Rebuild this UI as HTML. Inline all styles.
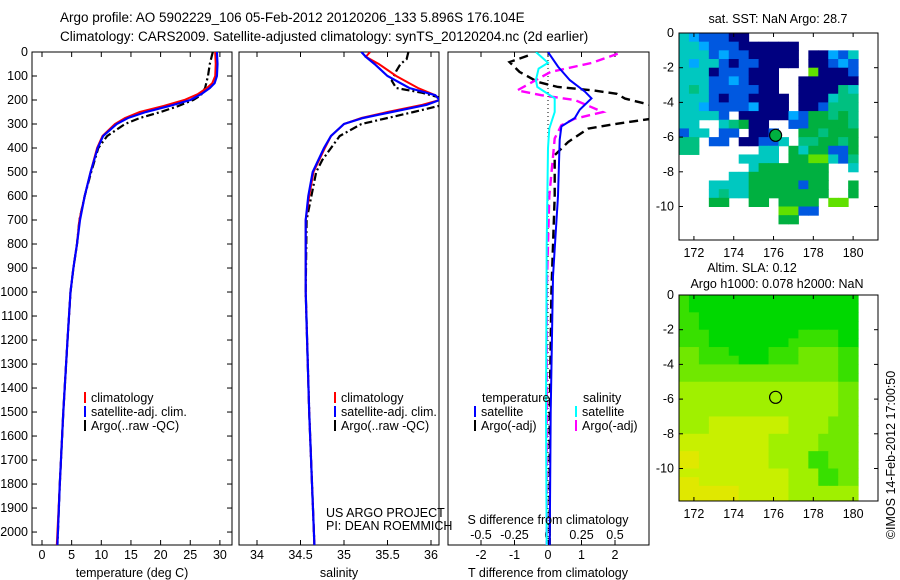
<!DOCTYPE html>
<html><head><meta charset="utf-8"><style>
body{margin:0;background:#fff;}
svg{display:block;font-family:"Liberation Sans",sans-serif;}
text{font-size:12.5px;fill:#000;}
</style></head><body>
<svg id="fig" width="900" height="580" viewBox="0 0 900 580" xmlns="http://www.w3.org/2000/svg">
<rect width="900" height="580" fill="#fff"/>
<text x="60" y="22" style="font-size:13.5px">Argo profile: AO 5902229_106 05-Feb-2012 20120206_133 5.896S 176.104E</text>
<text x="60" y="41" style="font-size:13.5px">Climatology: CARS2009. Satellite-adjusted climatology: synTS_20120204.nc (2d earlier)</text>
<g id="g"></g>
<text transform="translate(895,455) rotate(-90)" text-anchor="middle" style="font-size:12.5px">©IMOS 14-Feb-2012 17:00:50</text>
</svg>
<script>
// ---- data ----
const depthTicks=[0,100,200,300,400,500,600,700,800,900,1000,1100,1200,1300,1400,1500,1600,1700,1800,1900,2000];
const tempTicks=[0,5,10,15,20,25,30];
const salTicks=[34,34.5,35,35.5,36];
const tdTicks=[-2,-1,0,1,2];
const sdTicks=[-0.5,-0.25,0,0.25,0.5];
const tempClimD=[0,50,100,130,150,175,200,225,250,275,300,350,400,500,600,700,800,900,1000,1200,1500,1800,2054];
const tempClim=[29.2,29.3,29.2,28.7,27.8,26.3,24.0,20.5,16.5,14.0,12.3,10.2,9.3,8.2,7.2,6.3,5.9,5.3,4.8,4.3,3.6,3.0,2.5];
const tempSat=[29.5,29.6,29.5,29.1,28.3,26.9,25.0,21.5,17.5,14.5,12.6,10.3,9.4,8.2,7.2,6.4,5.9,5.3,4.8,4.3,3.6,3.0,2.6];
const tempArgoD=[0,50,100,150,180,200,225,250,275,300,350,400,500,600,700,800,900,1000,1200,1500,1800,2054];
const tempArgo=[28.8,28.3,28.0,27.5,26.8,25.5,23.0,20.0,16.5,14.0,11.0,9.5,8.3,7.2,6.3,5.9,5.3,4.8,4.3,3.6,3.0,2.6];
const salD=[0,20,50,100,150,180,200,220,250,275,300,350,400,500,600,700,1000,1500,2054];
const salClim=[35.3,35.25,35.4,35.6,35.85,36.05,36.1,35.9,35.5,35.2,35.0,34.85,34.78,34.65,34.6,34.56,34.56,34.6,34.66];
const salSat=[35.2,35.25,35.35,35.5,35.75,36.05,36.1,35.95,35.55,35.22,35.0,34.85,34.77,34.64,34.59,34.56,34.56,34.6,34.66];
const salArgoD=[0,30,50,80,120,150,170,190,215,250,275,300,350,400,450,500,700,1000,1500,2054];
const salArgo=[35.74,35.72,35.65,35.6,35.55,35.6,35.9,36.1,36.2,35.8,35.5,35.2,34.95,34.85,34.75,34.68,34.57,34.56,34.6,34.66];
const tdD=[0,61,117,165,193,240,275,310,365,600,935,1500,2054];
const tdSat=[0,0.3,0.65,1.1,1.3,0.95,0.8,0.4,0.35,0.3,0.15,0.08,0.05];
const tdArgoD=[15,42,83,125,146,160,174,194,222,240,278,299,319,375,430,600,1000,1500,2054];
const tdArgo=[-0.6,-1.15,-0.85,-0.3,0.3,1.35,2.05,2.3,3.1,3.4,3.1,2.05,1.2,0.6,0.2,0.2,0.1,0.05,0.05];
const sdD=[0,45,69,117,146,193,250,319,400,800,1500,2054];
const sdSat=[-0.09,0,-0.07,-0.09,-0.08,0.05,0.05,0.01,0,-0.01,-0.015,-0.01];
const sdArgoD=[7,45,83,160,180,200,250,278,305,360,600,1000,2054];
const sdArgo=[0.52,0.33,0.02,-0.23,-0.05,0.2,0.41,0.2,0.1,0.05,0.01,-0.01,-0.01];
const latTicks=[0,-2,-4,-6,-8,-10];
const lonTicks=[172,174,176,178,180];
const sstGrid=[
"CSBBBNNWWWWWWWWWWW",
"CCSBBBNNNNNNWWWWWW",
"CCCBSBBNNNNNWNNSBC",
"CSCCBNBBNNNNWNNBSB",
"CCCNBBBNNNWWWLNNNB",
"CCCBBSBNNNWWNNNNNN",
"CTCBBBBBNNWWNNNNTC",
"CCCBNBBNNNNWNNNCTT",
"CCSBBBBSNNNWNNBTTT",
"CCCCBWNNNNNSBGGTGT",
"CCWWCTGNNWWBBGGGGT",
"BCCWBBWNNBWWGGTGGG",
"TTWBBWNNBBCWTTGGTG",
"TTWWWWWWCCWGCGGBBG",
"WWWWWWCCCCWGGLLCBT",
"WWWWWWWCGGGGGGGWWC",
"WWWWWCCGGGGGGGGWWW",
"WWWCCCCGGGGGBGGWWG",
"WWWCTCCGGGGGGGGWWG",
"WWWGGWWGGWGGGGWLLW",
"WWWWWWWWWWLLBBWWWW",
"WWWWWWWWWWGGWWWWWW",
"WWWWWWWWWWWWWWWWWW",
"WWWWWWWWWWWWWWWWWW"];
const slaGrid=[
"100000000000000000",
"100000000000000000",
"110000000000000000",
"110000000000000000",
"111000000000111100",
"111000000001111100",
"221110000111222211",
"221111000111222211",
"222222222222222211",
"222222222222222211",
"333333333333333322",
"333333333333333322",
"333333333333333322",
"333333333333333322",
"333444444443333222",
"333444444443333222",
"444444444333332222",
"444444444333332222",
"554444444333311222",
"554444444333311222",
"444444444443331122",
"554444444443331122",
"555555444443333333",
"555555444443333333"];
const sstColors={N:"#000080",B:"#0058e0",S:"#00a8ff",C:"#00c8c0",T:"#00c080",G:"#00b040",L:"#60e000"};
const slaColors=["#00d800","#38e000","#70e800","#a0f000","#c8f000","#e0e800"];
// ---- drawing ----
const NS="http://www.w3.org/2000/svg";
const root=document.getElementById('g');
function mk(tag,at,par){const e=document.createElementNS(NS,tag);for(const k in at)e.setAttribute(k,at[k]);(par||root).appendChild(e);return e;}
const top0=52,bot=545,dMax=2054;
const yD=d=>top0+(d/dMax)*(bot-top0);
const xT=v=>42+v*5.93;
const xS=v=>257+(v-34)*87;
const xTD=v=>548+v*33.5;
const xSD=v=>548+v*134;
function panel(x0,x1,name){
  const r=mk('rect',{x:x0,y:top0,width:x1-x0,height:bot-top0,fill:'none',stroke:'#000','stroke-width':1});
  
  
}
function line(xs,ds,fx,col,w,dash,name,clip){
  const p=xs.map((v,i)=>fx(v).toFixed(1)+','+yD(ds[i]).toFixed(1)).join(' ');
  const a={points:p,fill:'none',stroke:col,'stroke-width':w};
  if(dash)a['stroke-dasharray']=dash;
  if(clip)a['clip-path']=clip;
  const e=mk('polyline',a);
  
  
}
const defs=mk('defs',{});
const cp=mk('clipPath',{id:'c3'},defs);mk('rect',{x:448,y:52,width:201,height:493},cp);
const cp2=mk('clipPath',{id:'c2'},defs);mk('rect',{x:239,y:52,width:200,height:493},cp2);
panel(32,232,'temperature-panel');panel(239,439,'salinity-panel');panel(448,649,'difference-panel');
depthTicks.forEach(d=>{
  const y=yD(d);
  mk('line',{x1:32,x2:37,y1:y,y2:y,stroke:'#000'});mk('line',{x1:227,x2:232,y1:y,y2:y,stroke:'#000'});
  const t=mk('text',{x:28,y:y+4,'text-anchor':'end'});t.textContent=d;
  
  
});
function xticks(ticks,fx,ly,cls){
  ticks.forEach(v=>{const x=fx(v);
    mk('line',{x1:x,x2:x,y1:top0,y2:top0+5,stroke:'#000'});mk('line',{x1:x,x2:x,y1:bot,y2:bot-5,stroke:'#000'});
    const t=mk('text',{x:x,y:ly,'text-anchor':'middle'});t.textContent=v;
    
    
  });
}
xticks(tempTicks,xT,559,'temperature-tick-label');
xticks(salTicks,xS,559,'salinity-tick-label');
xticks(tdTicks,xTD,559,'t-diff-tick-label');
sdTicks.forEach(v=>{const t=mk('text',{x:xSD(v),y:539,'text-anchor':'middle'});t.textContent=v;
  
  });
line(tempArgo,tempArgoD,xT,'#000',2.2,'8,3,2,3','temp-argo-line');
line(tempClim,tempClimD,xT,'#f00',2,'', 'temp-clim-line');
line(tempSat,tempClimD,xT,'#00f',2.2,'','temp-sat-line');
line(salArgo,salArgoD,xS,'#000',2.2,'8,3,2,3','sal-argo-line','url(#c2)');
line(salClim,salD,xS,'#f00',2,'','sal-clim-line','url(#c2)');
line(salSat,salD,xS,'#00f',2.2,'','sal-sat-line','url(#c2)');
mk('line',{x1:548,x2:548,y1:52,y2:545,stroke:'#000','stroke-dasharray':'1,3'});
line(tdArgo,tdArgoD,xTD,'#000',2.4,'9,5','tdiff-argo-line','url(#c3)');
line(sdArgo,sdArgoD,xSD,'#f0f',2.4,'9,5','sdiff-argo-line','url(#c3)');
line(tdSat,tdD,xTD,'#00f',2,'','tdiff-sat-line','url(#c3)');
line(sdSat,sdD,xSD,'#0ff',2,'','sdiff-sat-line','url(#c3)');
function txt(x,y,s,name,anchor){const t=mk('text',{x:x,y:y,'text-anchor':anchor||'start'});t.textContent=s;
  
  return t;}
txt(132,577,'temperature (deg C)','temperature-axis-title','middle');
txt(339,577,'salinity','salinity-axis-title','middle');
txt(548,577,'T difference from climatology','t-diff-axis-title','middle');
txt(548,524,'S difference from climatology','s-diff-axis-title','middle');
txt(326,517,'US ARGO PROJECT','project-label');
txt(326,530,'PI: DEAN ROEMMICH','pi-label');
function leg(x,y,col,s,name){const e=mk('rect',{x:x,y:y-10,width:2,height:11,fill:col});
  
  
  txt(x+7,y,s,name);}
[[84,'climatology','#f00'],[84,'satellite-adj. clim.','#00f'],[84,'Argo(..raw -QC)','#000']].forEach((a,i)=>leg(a[0],402+i*14,a[2],a[1],'temp-legend-entry'));
[[334,'climatology','#f00'],[334,'satellite-adj. clim.','#00f'],[334,'Argo(..raw -QC)','#000']].forEach((a,i)=>leg(a[0],402+i*14,a[2],a[1],'sal-legend-entry'));
txt(482,402,'temperature','diff-legend-temperature-header');
txt(583,402,'salinity','diff-legend-salinity-header');
leg(474,416,'#00f','satellite','diff-legend-t-satellite');
leg(474,430,'#000','Argo(-adj)','diff-legend-t-argo');
leg(575,416,'#0ff','satellite','diff-legend-s-satellite');
leg(575,430,'#f0f','Argo(-adj)','diff-legend-s-argo');
const mx0=679,mx1=878,lonL=171.25,pxLon=19.9;
const xL=l=>mx0+(l-lonL)*pxLon;
function map(y0,y1,grid,colFn,name,fillCircle){
  const pxLat=17.35;const yL=v=>y0-v*pxLat;
  const g=mk('g',{});
  
  grid.forEach((row,r)=>{for(let c=0;c<row.length;c++){const col=colFn(row[c]);if(!col)continue;
    const x=xL(lonL+c*0.5),y=yL(-r*0.5);const h=Math.min(pxLat*0.5+0.5,y1-y);if(h<=0)continue;
    mk('rect',{x:x,y:y,width:pxLon*0.5+0.5,height:h,fill:col},g);}});
  mk('rect',{x:mx0,y:y0,width:mx1-mx0,height:y1-y0,fill:'none',stroke:'#000'});
  latTicks.forEach(v=>{const y=yL(v);mk('line',{x1:mx0,x2:mx0+4,y1:y,y2:y,stroke:'#000'});mk('line',{x1:mx1-4,x2:mx1,y1:y,y2:y,stroke:'#000'});
    txt(mx0-5,y+4,v,name+'-lat-label','end');});
  lonTicks.forEach(v=>{const x=xL(v);mk('line',{x1:x,x2:x,y1:y0,y2:y0+4,stroke:'#000'});mk('line',{x1:x,x2:x,y1:y1,y2:y1-4,stroke:'#000'});
    txt(x,y1+17,v,name+'-lon-label','middle');});
  const c=mk('circle',{cx:xL(176.104),cy:yL(-5.896),r:6,fill:fillCircle||'none',stroke:'#000','stroke-width':1.2});
  
  
}
map(33,240,sstGrid,ch=>sstColors[ch],'sst-map','#00b040');
map(295,501,slaGrid,ch=>slaColors[+ch],'sla-map');
txt(778,23,'sat. SST: NaN Argo: 28.7','sst-map-title','middle');
txt(752,272,'Altim. SLA: 0.12','sla-map-title','middle');
txt(777,288,'Argo h1000: 0.078 h2000: NaN','sla-map-subtitle','middle');
</script>
</body></html>
